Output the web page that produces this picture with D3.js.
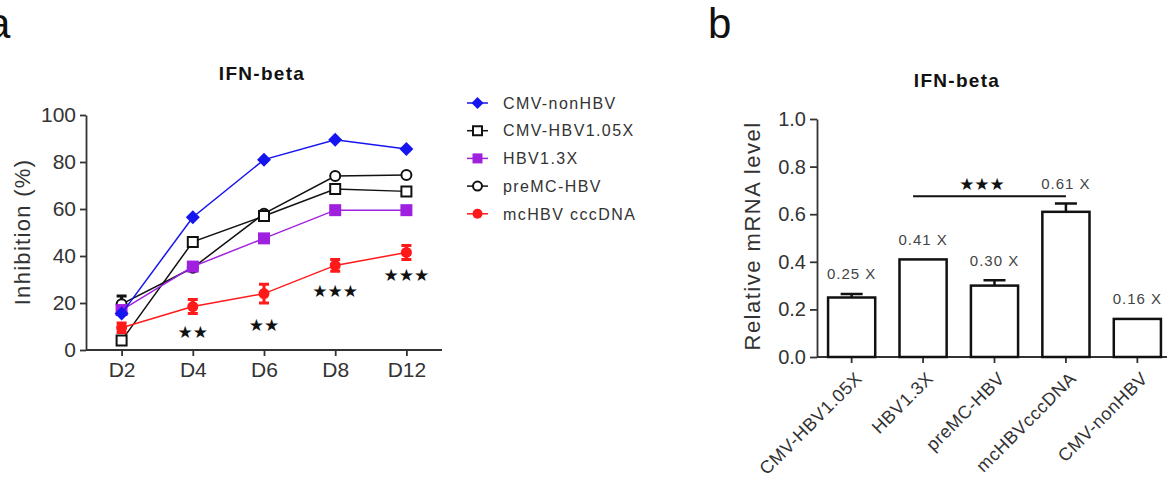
<!DOCTYPE html>
<html>
<head>
<meta charset="utf-8">
<script src="https://cdn.jsdelivr.net/npm/d3@7"></script>
<style>
  body { margin: 0; background: #fff; }
  text { font-family: Arial, "Liberation Sans", sans-serif; fill: #333; }
</style>
</head>
<body>
<svg id="fig" width="1167" height="483"></svg>
<script>
// ---- panel a data ----
const days = ["D2", "D4", "D6", "D8", "D12"];
const seriesNames = ["CMV-nonHBV", "CMV-HBV1.05X", "HBV1.3X", "preMC-HBV", "mcHBV cccDNA"];
const cmvNonHBV = [15.5, 56.5, 81, 89.5, 85.5];
const cmvHBV105 = [4, 46, 57, 68.5, 67.5];
const hbv13 = [17, 35.5, 47.5, 59.5, 59.5];
const premcHBV = [19.5, 35, 58, 74, 74.5];
const mcHBV = [9.5, 18.5, 24, 36, 41.5];
const mcHBVErr = [2, 3, 4, 2.5, 3];
const premcErr = [3.5, 0, 0, 0, 0];
const starsA = ["", "★★", "★★", "★★★", "★★★"];
const starsAY = [0, 8, 11, 25.5, 32];

// ---- panel b data ----
const groups = ["CMV-HBV1.05X", "HBV1.3X", "preMC-HBV", "mcHBVcccDNA", "CMV-nonHBV"];
const levels = [0.25, 0.41, 0.30, 0.61, 0.16];
const levelErr = [0.015, 0, 0.022, 0.035, 0];
const foldLabels = ["0.25 X", "0.41 X", "0.30 X", "0.61 X", "0.16 X"];

const svg = d3.select("#fig");

// panel letters
svg.append("text").attr("x", -13).attr("y", 38).style("font-size", "42px").style("fill", "#111").text("a");
svg.append("text").attr("x", 708).attr("y", 38).style("font-size", "42px").style("fill", "#111").text("b");

// ================= panel a =================
const xA = d3.scalePoint().domain(days).range([86, 442]).padding(0.5);
const yA = d3.scaleLinear().domain([0, 100]).range([350, 115]);

const gA = svg.append("g");

gA.append("text")
    .attr("x", 262).attr("y", 80)
    .attr("text-anchor", "middle")
    .style("font-size", "19px").style("font-weight", "bold").style("letter-spacing", "1.3px").style("fill", "#111")
    .text("IFN-beta");

const axA = gA.append("g").attr("transform", "translate(86,0)")
    .call(d3.axisLeft(yA).tickValues([0, 20, 40, 60, 80, 100]).tickSize(6).tickSizeOuter(0).tickPadding(4));
const axB = gA.append("g").attr("transform", "translate(0,350)")
    .call(d3.axisBottom(xA).tickSize(6).tickSizeOuter(0).tickPadding(6));
// extend baseline across plot width
axB.select(".domain").attr("d", "M86,0H442");
[axA, axB].forEach(a => {
    a.selectAll("path, line").attr("stroke", "#333").attr("stroke-width", 1.8);
    a.selectAll("text").style("font-size", "21px").style("fill", "#333");
});

gA.append("text")
    .attr("transform", "translate(30,232) rotate(-90)")
    .attr("text-anchor", "middle")
    .style("font-size", "22px").style("letter-spacing", "1.3px")
    .text("Inhibition (%)");

const diamond = r => `M0,${-r}L${r},0L0,${r}L${-r},0Z`;
const square = s => `M${-s / 2},${-s / 2}h${s}v${s}h${-s}Z`;
const circle = r => `M${r},0A${r},${r} 0 1,1 ${-r},0A${r},${r} 0 1,1 ${r},0Z`;

const series = [
    { name: seriesNames[3], vals: premcHBV, err: premcErr, color: "#111", shape: circle(5), fill: "#fff", sw: 2 },
    { name: seriesNames[1], vals: cmvHBV105, err: null, color: "#111", shape: square(10), fill: "#fff", sw: 2 },
    { name: seriesNames[2], vals: hbv13, err: null, color: "#a020e0", shape: square(12), fill: "#a020e0", sw: 0 },
    { name: seriesNames[4], vals: mcHBV, err: mcHBVErr, color: "#ff1a1a", shape: circle(5.5), fill: "#ff1a1a", sw: 0 },
    { name: seriesNames[0], vals: cmvNonHBV, err: null, color: "#1515f0", shape: diamond(7), fill: "#1515f0", sw: 0 }
];

const line = d3.line().x((d, i) => xA(days[i])).y(d => yA(d));

series.forEach(s => {
    const g = gA.append("g");
    g.append("path").datum(s.vals).attr("d", line)
        .attr("fill", "none").attr("stroke", s.color).attr("stroke-width", 1.5);
    if (s.err) {
        s.vals.forEach((v, i) => {
            if (!s.err[i]) return;
            const cx = xA(days[i]);
            const top = yA(v + s.err[i]), bot = yA(v - s.err[i]);
            g.append("path")
                .attr("d", `M${cx},${top}V${bot}M${cx - 5},${top}H${cx + 5}M${cx - 5},${bot}H${cx + 5}`)
                .attr("fill", "none").attr("stroke", s.color).attr("stroke-width", 3);
        });
    }
    g.selectAll(".m").data(s.vals).enter().append("path")
        .attr("transform", (d, i) => `translate(${xA(days[i])},${yA(d)})`)
        .attr("d", s.shape)
        .attr("fill", s.fill)
        .attr("stroke", s.sw ? s.color : "none")
        .attr("stroke-width", s.sw);
});

// significance stars
gA.selectAll(".star").data(starsA).enter().append("text")
    .attr("x", (d, i) => xA(days[i]))
    .attr("y", (d, i) => yA(starsAY[i]))
    .attr("dy", "0.38em")
    .attr("text-anchor", "middle")
    .style("font-family", "'DejaVu Sans', sans-serif")
    .style("font-size", "17px").style("fill", "#111")
    .text(d => d);

// legend
const legendOrder = [
    { name: seriesNames[0], color: "#1515f0", shape: diamond(6), fill: "#1515f0", sw: 0 },
    { name: seriesNames[1], color: "#111", shape: square(9), fill: "#fff", sw: 2 },
    { name: seriesNames[2], color: "#a020e0", shape: square(10), fill: "#a020e0", sw: 0 },
    { name: seriesNames[3], color: "#111", shape: circle(4.5), fill: "#fff", sw: 2 },
    { name: seriesNames[4], color: "#ff1a1a", shape: circle(5), fill: "#ff1a1a", sw: 0 }
];
const leg = gA.append("g").attr("transform", "translate(467,103)");
legendOrder.forEach((d, i) => {
    const row = leg.append("g").attr("transform", `translate(0,${i * 27.7})`);
    row.append("line").attr("x1", 0).attr("x2", 21).attr("stroke", d.color).attr("stroke-width", 1.5);
    row.append("path").attr("transform", "translate(10.5,0)").attr("d", d.shape)
        .attr("fill", d.fill).attr("stroke", d.sw ? d.color : "none").attr("stroke-width", d.sw);
    row.append("text").attr("x", 36).attr("dy", "0.36em")
        .style("font-size", "16px").style("letter-spacing", "1.4px")
        .text(d.name);
});

// ================= panel b =================
const xB = d3.scaleBand().domain(groups).range([817, 1172]).paddingInner(0.34).paddingOuter(0.155);
const yB = d3.scaleLinear().domain([0, 1]).range([357, 119]);
const gB = svg.append("g");

gB.append("text")
    .attr("x", 957).attr("y", 87)
    .attr("text-anchor", "middle")
    .style("font-size", "19px").style("font-weight", "bold").style("letter-spacing", "1.3px").style("fill", "#111")
    .text("IFN-beta");

gB.append("text")
    .attr("transform", "translate(760,236) rotate(-90)")
    .attr("text-anchor", "middle")
    .style("font-size", "22px").style("letter-spacing", "1.5px")
    .text("Relative mRNA level");

const byA = gB.append("g").attr("transform", "translate(817,0)")
    .call(d3.axisLeft(yB).tickValues([0, 0.2, 0.4, 0.6, 0.8, 1.0]).tickFormat(d3.format(".1f"))
        .tickSize(7).tickSizeOuter(0).tickPadding(4));
const bxA = gB.append("g").attr("transform", "translate(0,357)")
    .call(d3.axisBottom(xB).tickSize(6).tickSizeOuter(0).tickFormat(""));
bxA.select(".domain").attr("d", "M817,0H1167");
[byA, bxA].forEach(a => a.selectAll("path, line").attr("stroke", "#333").attr("stroke-width", 1.8));
byA.selectAll("text").style("font-size", "20px").style("fill", "#333");

// rotated category labels
gB.selectAll(".cat").data(groups).enter().append("text")
    .attr("transform", d => `translate(${xB(d) + xB.bandwidth() / 2 + 7},${375}) rotate(-45)`)
    .attr("text-anchor", "end")
    .attr("dy", "0.35em")
    .style("font-size", "18px").style("letter-spacing", "0.6px")
    .text(d => d);

// bars
gB.selectAll(".bar").data(levels).enter().append("rect")
    .attr("x", (d, i) => xB(groups[i]))
    .attr("y", d => yB(d))
    .attr("width", xB.bandwidth())
    .attr("height", d => yB(0) - yB(d))
    .attr("fill", "#fff").attr("stroke", "#111").attr("stroke-width", 2.5);

// error bars (upper only)
levels.forEach((v, i) => {
    if (!levelErr[i]) return;
    const cx = xB(groups[i]) + xB.bandwidth() / 2;
    const top = yB(v + levelErr[i]);
    gB.append("path")
        .attr("d", `M${cx},${yB(v)}V${top}M${cx - 11},${top}H${cx + 11}`)
        .attr("fill", "none").attr("stroke", "#111").attr("stroke-width", 2.5);
});

// fold labels
gB.selectAll(".fold").data(foldLabels).enter().append("text")
    .attr("x", (d, i) => xB(groups[i]) + xB.bandwidth() / 2)
    .attr("y", (d, i) => yB(levels[i] + levelErr[i]) - 20)
    .attr("dy", "0.36em")
    .attr("text-anchor", "middle")
    .style("font-size", "15px").style("letter-spacing", "1px").style("fill", "#444")
    .text(d => d);

// significance bracket
const sigY = 0.675;
gB.append("line")
    .attr("x1", xB(groups[1]) + xB.bandwidth() / 2 - 10)
    .attr("x2", xB(groups[3]) + xB.bandwidth() / 2)
    .attr("y1", yB(sigY)).attr("y2", yB(sigY))
    .attr("stroke", "#111").attr("stroke-width", 2);
gB.append("text")
    .attr("x", 982).attr("y", yB(0.73)).attr("dy", "0.38em")
    .attr("text-anchor", "middle")
    .style("font-family", "'DejaVu Sans', sans-serif")
    .style("font-size", "17px").style("fill", "#111")
    .text("★★★");
</script>
</body>
</html>
